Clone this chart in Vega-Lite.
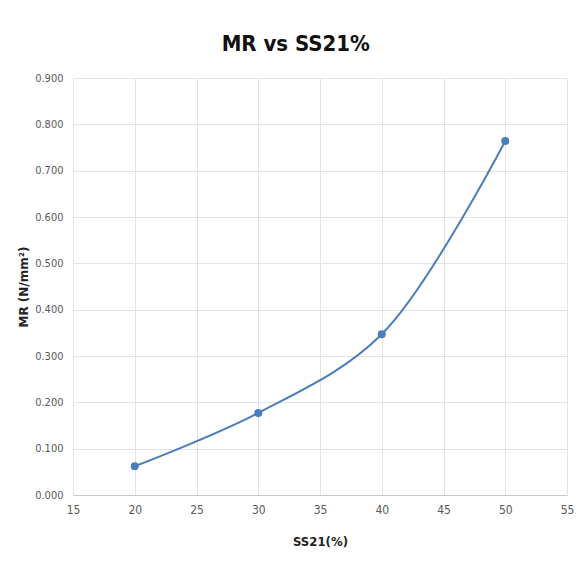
{
  "$schema": "https://vega.github.io/schema/vega-lite/v6.json",
  "width": 494,
  "height": 417,
  "autosize": {"type": "none"},
  "padding": {"left": 73, "top": 78, "right": 17, "bottom": 70},
  "background": "white",
  "title": {
    "text": "MR vs SS21%",
    "font": "DejaVu Sans Condensed",
    "fontSize": 22,
    "fontWeight": "bold",
    "color": "#111111",
    "anchor": "middle",
    "frame": "bounds",
    "offset": 16
  },
  "data": {
    "values": [
      {"ss21": 20, "mr": 0.062},
      {"ss21": 30, "mr": 0.177},
      {"ss21": 40, "mr": 0.347},
      {"ss21": 50, "mr": 0.764}
    ]
  },
  "encoding": {
    "x": {
      "field": "ss21",
      "type": "quantitative",
      "scale": {"domain": [15, 55], "nice": false, "zero": false},
      "axis": {
        "title": "SS21(%)",
        "values": [15, 20, 25, 30, 35, 40, 45, 50, 55],
        "grid": true,
        "gridColor": "#e4e4e4",
        "ticks": false,
        "domain": true,
        "domainColor": "#c8c8c8",
        "labelFlush": false,
        "labelFont": "DejaVu Sans Condensed",
        "labelFontSize": 12,
        "labelColor": "#595959",
        "labelPadding": 9,
        "titleFont": "DejaVu Sans Condensed",
        "titleFontSize": 13,
        "titleFontWeight": "bold",
        "titleColor": "#222222",
        "titlePadding": 20
      }
    },
    "y": {
      "field": "mr",
      "type": "quantitative",
      "scale": {"domain": [0, 0.9], "nice": false},
      "axis": {
        "title": "MR (N/mm²)",
        "values": [0, 0.1, 0.2, 0.3, 0.4, 0.5, 0.6, 0.7, 0.8, 0.9],
        "format": ".3f",
        "grid": true,
        "gridColor": "#e4e4e4",
        "ticks": false,
        "domain": false,
        "labelFont": "DejaVu Sans Condensed",
        "labelFontSize": 11,
        "labelColor": "#595959",
        "labelPadding": 10,
        "titleFont": "DejaVu Sans",
        "titleFontSize": 12,
        "titleFontWeight": "bold",
        "titleColor": "#222222",
        "titlePadding": 4
      }
    }
  },
  "layer": [
    {
      "mark": {"type": "line", "interpolate": "catmull-rom", "color": "#4a7ebb", "strokeWidth": 2}
    },
    {
      "mark": {"type": "point", "filled": true, "color": "#4a7ebb", "size": 65, "opacity": 1}
    }
  ],
  "config": {"view": {"stroke": null}}
}
